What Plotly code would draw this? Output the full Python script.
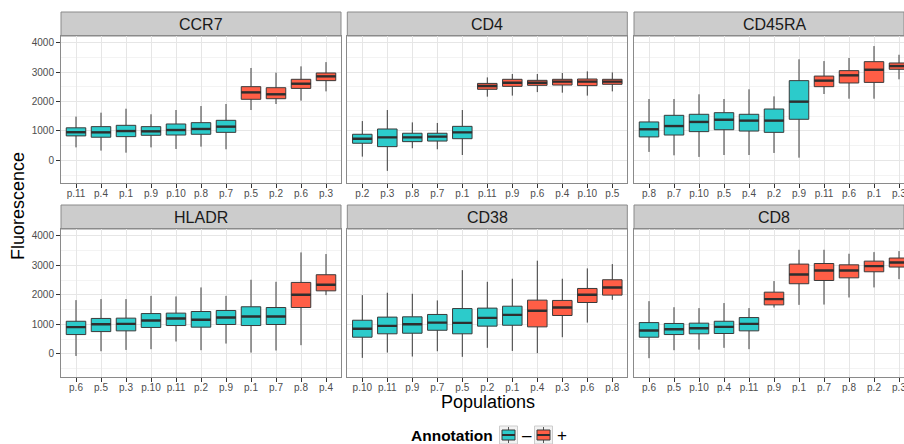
import plotly.graph_objects as go

W, H = 904, 444

markers = ["CCR7", "CD4", "CD45RA", "HLADR", "CD38", "CD8"]

# ---- data ----
ccr7_pops = ["p.11", "p.4", "p.1", "p.9", "p.10", "p.8", "p.7", "p.5", "p.2", "p.6", "p.3"]
ccr7_ann = ["-", "-", "-", "-", "-", "-", "-", "+", "+", "+", "+"]
ccr7_lo = [440, 330, 260, 440, 385, 465, 375, 1710, 1915, 2030, 2345]
ccr7_q1 = [830, 785, 805, 850, 860, 885, 950, 2075, 2095, 2445, 2710]
ccr7_med = [955, 950, 995, 985, 1030, 1065, 1145, 2310, 2245, 2605, 2855]
ccr7_q3 = [1105, 1145, 1190, 1145, 1235, 1280, 1360, 2505, 2470, 2755, 2970]
ccr7_hi = [1485, 1620, 1755, 1565, 1710, 1845, 1915, 3140, 2980, 3195, 3340]

cd4_pops = ["p.2", "p.3", "p.8", "p.7", "p.1", "p.11", "p.9", "p.6", "p.4", "p.10", "p.5"]
cd4_ann = ["-", "-", "-", "-", "-", "+", "+", "+", "+", "+", "+"]
cd4_lo = [125, -360, 410, 375, 180, 2165, 2200, 2320, 2300, 2200, 2345]
cd4_q1 = [580, 465, 635, 655, 735, 2415, 2515, 2550, 2560, 2540, 2585]
cd4_med = [735, 780, 780, 805, 950, 2525, 2640, 2640, 2675, 2675, 2675]
cd4_q3 = [885, 1065, 920, 920, 1155, 2615, 2755, 2720, 2755, 2765, 2755]
cd4_hi = [1335, 1710, 1290, 1270, 1710, 2820, 2935, 2935, 2970, 3025, 2990]

cd45ra_pops = ["p.8", "p.7", "p.10", "p.5", "p.4", "p.2", "p.9", "p.11", "p.6", "p.1", "p.3"]
cd45ra_ann = ["-", "-", "-", "-", "-", "-", "-", "+", "+", "+", "+"]
cd45ra_lo = [285, 170, 115, 180, 180, 250, 90, 2255, 2095, 2095, 2755]
cd45ra_q1 = [795, 860, 975, 1040, 995, 950, 1395, 2505, 2630, 2650, 3095]
cd45ra_med = [1055, 1165, 1305, 1380, 1350, 1350, 1995, 2710, 2890, 3080, 3205]
cd45ra_q3 = [1305, 1530, 1565, 1620, 1565, 1745, 2710, 2865, 3050, 3355, 3310]
cd45ra_hi = [2085, 2085, 2245, 2085, 2415, 2175, 3435, 3375, 3480, 3885, 3590]

hladr_pops = ["p.6", "p.5", "p.3", "p.10", "p.11", "p.2", "p.9", "p.1", "p.7", "p.8", "p.4"]
hladr_ann = ["-", "-", "-", "-", "-", "-", "-", "-", "-", "+", "+"]
hladr_lo = [-70, 90, 135, 160, 420, 125, 350, 45, 115, 295, 1990]
hladr_q1 = [655, 755, 780, 895, 960, 905, 995, 960, 995, 1570, 2135]
hladr_med = [905, 1005, 1015, 1130, 1200, 1155, 1230, 1265, 1265, 2000, 2340]
hladr_q3 = [1105, 1200, 1210, 1365, 1380, 1435, 1470, 1595, 1570, 2420, 2680]
hladr_hi = [1820, 1855, 1855, 1965, 1945, 2250, 1965, 2510, 2440, 3435, 3380]

cd38_pops = ["p.10", "p.11", "p.9", "p.7", "p.5", "p.2", "p.1", "p.4", "p.3", "p.6", "p.8"]
cd38_ann = ["-", "-", "-", "-", "-", "-", "-", "+", "+", "+", "+"]
cd38_lo = [-135, 45, -90, 90, -100, 205, 100, 25, 565, 1060, 1830]
cd38_q1 = [565, 680, 700, 800, 680, 940, 970, 915, 1300, 1740, 1990]
cd38_med = [850, 950, 1005, 1060, 1050, 1220, 1320, 1460, 1570, 2000, 2250]
cd38_q3 = [1140, 1245, 1255, 1335, 1535, 1550, 1615, 1820, 1810, 2215, 2510]
cd38_hi = [1990, 2070, 2035, 1810, 2835, 2440, 2545, 3155, 2545, 2895, 3040]

cd8_pops = ["p.6", "p.5", "p.10", "p.4", "p.11", "p.9", "p.1", "p.7", "p.8", "p.2", "p.3"]
cd8_ann = ["-", "-", "-", "-", "-", "+", "+", "+", "+", "+", "+"]
cd8_lo = [-145, 125, 145, 205, 160, 1570, 1660, 1670, 1910, 2250, 2530]
cd8_q1 = [565, 655, 680, 690, 780, 1660, 2375, 2485, 2575, 2780, 2940]
cd8_med = [790, 835, 870, 915, 1015, 1855, 2690, 2825, 2825, 2970, 3095]
cd8_q3 = [1060, 1030, 1040, 1105, 1230, 2090, 3040, 3060, 3015, 3140, 3245]
cd8_hi = [1785, 1580, 1550, 1720, 1550, 2465, 3525, 3525, 3390, 3445, 3480]

y_ticks = [0, 1000, 2000, 3000, 4000]
y_minor = [-500, 500, 1500, 2500, 3500]

legend_title = "Annotation"
legend_labels = ["–", "+"]

panels = [
    (ccr7_pops, ccr7_ann, ccr7_lo, ccr7_q1, ccr7_med, ccr7_q3, ccr7_hi),
    (cd4_pops, cd4_ann, cd4_lo, cd4_q1, cd4_med, cd4_q3, cd4_hi),
    (cd45ra_pops, cd45ra_ann, cd45ra_lo, cd45ra_q1, cd45ra_med, cd45ra_q3, cd45ra_hi),
    (hladr_pops, hladr_ann, hladr_lo, hladr_q1, hladr_med, hladr_q3, hladr_hi),
    (cd38_pops, cd38_ann, cd38_lo, cd38_q1, cd38_med, cd38_q3, cd38_hi),
    (cd8_pops, cd8_ann, cd8_lo, cd8_q1, cd8_med, cd8_q3, cd8_hi),
]

# ---- styling ----
FONT = "Liberation Sans, Arial, Helvetica, sans-serif"
CYAN = "#2CCBCB"
RED = "#FF5E46"
EDGE = "#3A3A3A"
MED = "#2E2E2E"
GRID = "#E6E6E6"
GRID_MINOR = "#F3F3F3"
BORDER = "#8A8A8A"
BOX_W = 0.78

col_x = [(61, 341), (347.3, 627.3), (634, 914)]
row_y = [(36, 183), (229, 376.7)]
strip_h = 24


def px_x(v):
    return v / W


def px_y(v):
    return 1 - v / H


fig = go.Figure()
layout = dict(
    width=W, height=H,
    margin=dict(l=0, r=0, t=0, b=0, autoexpand=False),
    paper_bgcolor="white", plot_bgcolor="white",
    font=dict(family=FONT, color="#1A1A1A"),
    boxmode="overlay",
    showlegend=False,
    shapes=[], annotations=[],
)

for k, (pops, ann, lo, q1, med, q3, hi) in enumerate(panels):
    r, c = divmod(k, 3)
    ax = "" if k == 0 else str(k + 1)
    xa, ya = "x" + ax, "y" + ax
    x0p, x1p = col_x[c]
    y0p, y1p = row_y[r]
    full_w = x1p - x0p
    vis_right = min(x1p, W)
    units_per_px = 11.2 / full_w
    xr = [-0.6, -0.6 + (vis_right - x0p) * units_per_px]

    for sign, color, name in (("-", CYAN, legend_labels[0]), ("+", RED, legend_labels[1])):
        idx = [i for i, a in enumerate(ann) if a == sign]
        fig.add_trace(go.Box(
            x=idx,
            q1=[q1[i] for i in idx], median=[med[i] for i in idx], q3=[q3[i] for i in idx],
            lowerfence=[lo[i] for i in idx], upperfence=[hi[i] for i in idx],
            width=BOX_W, whiskerwidth=0, boxpoints=False,
            fillcolor=color, line=dict(color=EDGE, width=1),
            name=name, legendgroup=name, showlegend=False,
            xaxis=xa, yaxis=ya, hoverinfo="skip",
        ))
    # thicker median bars, derived from the median values
    mx, my = [], []
    for i, m in enumerate(med):
        mx += [i - BOX_W / 2, i + BOX_W / 2, None]
        my += [m, m, None]
    fig.add_trace(go.Scatter(x=mx, y=my, mode="lines", line=dict(color=MED, width=2.4),
                             showlegend=False, xaxis=xa, yaxis=ya, hoverinfo="skip"))

    layout["xaxis" + ax] = dict(
        domain=[px_x(x0p), px_x(vis_right)], anchor=ya, range=xr,
        tickmode="array", tickvals=list(range(len(pops))), ticktext=pops,
        showgrid=True, gridcolor=GRID, gridwidth=1, zeroline=False,
        showline=True, linecolor=BORDER, linewidth=1, mirror=True,
        ticks="outside", ticklen=4, tickcolor="#333333",
        ticklabeloverflow="allow", ticklabelstandoff=-3,
        tickfont=dict(size=10, color="#4D4D4D", family=FONT),
    )
    layout["yaxis" + ax] = dict(
        domain=[px_y(y1p), px_y(y0p)], anchor=xa, range=[-772, 4228],
        tickmode="array", tickvals=y_ticks,
        showticklabels=(c == 0),
        showgrid=True, gridcolor=GRID, gridwidth=1, zeroline=False,
        minor=dict(tickmode="array", tickvals=y_minor, showgrid=True,
                   gridcolor=GRID_MINOR, gridwidth=0.6, ticks=""),
        showline=True, linecolor=BORDER, linewidth=1, mirror=(c < 2),
        ticks="outside" if c == 0 else "", ticklen=4, tickcolor="#333333",
        tickfont=dict(size=10, color="#4D4D4D", family=FONT),
    )
    # facet strip
    layout["shapes"].append(dict(
        type="rect", xref="paper", yref="paper",
        x0=px_x(x0p), x1=px_x(x1p) if x1p <= W else 1.0,
        y0=px_y(y0p), y1=px_y(y0p - strip_h),
        fillcolor="#CCCCCC", line=dict(color=BORDER, width=1), layer="below",
    ))
    layout["annotations"].append(dict(
        text=markers[k], xref="paper", yref="paper",
        x=px_x((x0p + x1p) / 2), y=px_y(y0p - strip_h / 2),
        showarrow=False, xanchor="center", yanchor="middle",
        font=dict(size=16, color="#1A1A1A", family=FONT),
    ))

layout["annotations"].append(dict(
    text="Fluorescence", xref="paper", yref="paper", x=px_x(18), y=px_y(206),
    textangle=-90, showarrow=False, xanchor="center", yanchor="middle",
    font=dict(size=18, color="#000000", family=FONT),
))
layout["annotations"].append(dict(
    text="Populations", xref="paper", yref="paper", x=px_x(487.5), y=px_y(402),
    showarrow=False, xanchor="center", yanchor="middle",
    font=dict(size=18, color="#000000", family=FONT),
))

# ---- legend (ggplot-style keys) ----
LEG_Y = 435
layout["annotations"].append(dict(
    text="<b>" + legend_title + "</b>", xref="paper", yref="paper",
    x=px_x(495), y=px_y(LEG_Y), showarrow=False, xanchor="right", yanchor="middle",
    font=dict(size=15.5, color="#000000", family=FONT),
))
key_left = [499.5, 534.5]
for kl, fill, lab in zip(key_left, (CYAN, RED), legend_labels):
    cx = kl + 9
    layout["shapes"].append(dict(type="rect", xref="paper", yref="paper",
                                 x0=px_x(kl), x1=px_x(kl + 18), y0=px_y(LEG_Y - 9), y1=px_y(LEG_Y + 9),
                                 fillcolor="#F2F2F2", line=dict(color="#CCCCCC", width=1)))
    layout["shapes"].append(dict(type="line", xref="paper", yref="paper",
                                 x0=px_x(cx), x1=px_x(cx), y0=px_y(LEG_Y - 8), y1=px_y(LEG_Y + 8),
                                 line=dict(color="#555555", width=1)))
    layout["shapes"].append(dict(type="rect", xref="paper", yref="paper",
                                 x0=px_x(kl + 2.5), x1=px_x(kl + 15.5), y0=px_y(LEG_Y - 5), y1=px_y(LEG_Y + 5),
                                 fillcolor=fill, line=dict(color=EDGE, width=1)))
    layout["shapes"].append(dict(type="line", xref="paper", yref="paper",
                                 x0=px_x(kl + 2.5), x1=px_x(kl + 15.5), y0=px_y(LEG_Y), y1=px_y(LEG_Y),
                                 line=dict(color=MED, width=2)))
    layout["annotations"].append(dict(
        text=lab, xref="paper", yref="paper", x=px_x(kl + 20), y=px_y(LEG_Y),
        showarrow=False, xanchor="left", yanchor="middle",
        font=dict(size=17, color="#000000", family=FONT),
    ))

fig.update_layout(**layout)
fig.write_html("out.html", config={"displayModeBar": False},
               post_script="document.body.style.margin='0';")
